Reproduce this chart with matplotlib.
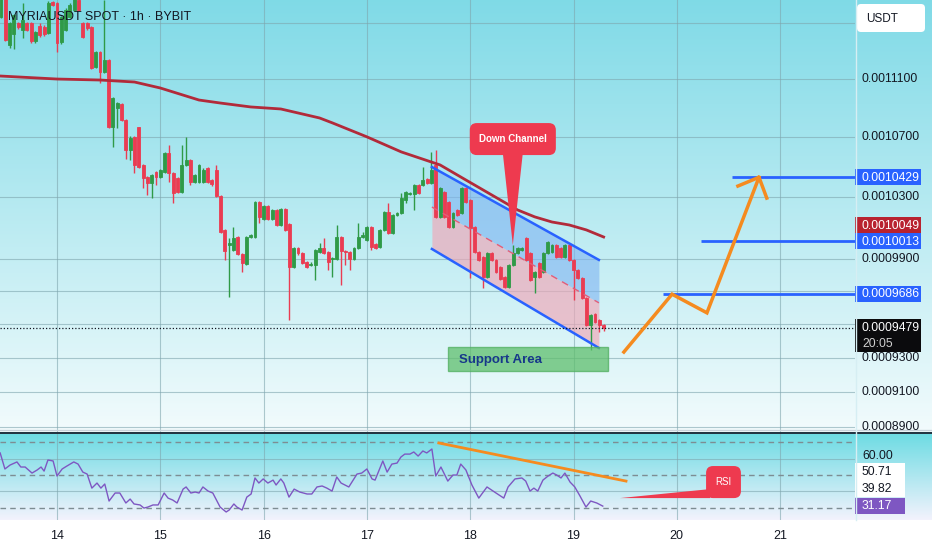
import numpy as np
import matplotlib
matplotlib.use("Agg")
import matplotlib.pyplot as plt
from matplotlib.patches import FancyBboxPatch, Polygon, Rectangle

plt.rcParams['font.family'] = ['Liberation Sans', 'DejaVu Sans']

# ---------------- data (prices in units of 1e-7 USDT, time in hours from day 14 00:00) ----------------
SCALE = 1e-7
hours = list(range(-13, 128))
opens = [11546, 11693, 11342, 11422, 11502, 11451, 11502, 11502, 11371, 11480,
         11470, 11429, 11656, 11649, 11364, 11451, 11546, 11597, 11671, 11502,
         11502, 11473, 11185, 11292, 11149, 11235, 10767, 10898, 10925, 10815,
         10611, 10700, 10767, 10511, 10431, 10391, 10464, 10431, 10464, 10591,
         10458, 10424, 10332, 10511, 10544, 10398, 10398, 10398, 10491, 10411,
         10478, 10306, 10086, 9991, 9959, 10041, 9934, 9871, 10041, 10041,
         10267, 10157, 10241, 10157, 10215, 10118, 10221, 10125, 9852, 9972,
         9940, 9884, 9865, 9865, 9947, 9972, 9947, 9902, 9902, 10041,
         9953, 9947, 9902, 9972, 10041, 10022, 10105, 9997, 9978, 10086,
         10202, 10067, 10183, 10196, 10280, 10319, 10319, 10378, 10378, 10418,
         10391, 10511, 10170, 10332, 10267, 10105, 10215, 10196, 10358, 10280,
         10105, 9947, 9915, 9790, 9940, 9896, 9852, 9790, 9728, 9865,
         9940, 9959, 10035, 9940, 9790, 9877, 9821, 9940, 9947, 9991,
         9972, 9915, 9991, 9896, 9834, 9784, 9661, 9496, 9563, 9527,
         9496]
highs = [11720, 11700, 11510, 11570, 11510, 11649, 11510, 11510, 11445, 11500,
         11490, 11660, 11665, 11655, 11555, 11610, 11650, 11700, 11690, 11510,
         11510, 11480, 11300, 11300, 11671, 11240, 10975, 10940, 10930, 10820,
         10706, 10705, 10770, 10515, 10435, 10450, 10470, 10485, 10598, 10645,
         10465, 10430, 10645, 10700, 10550, 10450, 10520, 10490, 10500, 10415,
         10511, 10310, 10090, 10035, 10105, 10045, 9940, 10048, 10060, 10275,
         10275, 10250, 10250, 10222, 10220, 10228, 10228, 10130, 9980, 9978,
         9945, 9890, 9880, 9965, 10003, 10035, 9952, 9915, 10118, 10048,
         9960, 9955, 9980, 10131, 10073, 10112, 10112, 10003, 10093, 10210,
         10260, 10190, 10203, 10326, 10340, 10333, 10385, 10385, 10498, 10425,
         10597, 10611, 10365, 10340, 10275, 10203, 10222, 10365, 10365, 10287,
         10112, 9953, 9922, 9947, 9947, 9902, 9858, 9796, 9872, 9991,
         9978, 9978, 10041, 9947, 9828, 9884, 9947, 10016, 9997, 9997,
         9978, 9997, 9997, 9902, 9840, 9790, 9667, 9563, 9570, 9533,
         9500]
lows = [11540, 11370, 11320, 11313, 11460, 11393, 11440, 11360, 11360, 11400,
        11410, 11420, 11625, 11292, 11350, 11440, 11540, 11590, 11590, 11390,
        11450, 11170, 11180, 11072, 11140, 10760, 10632, 10760, 10810, 10551,
        10544, 10458, 10490, 10358, 10313, 10293, 10378, 10425, 10460, 10398,
        10260, 10325, 10325, 10505, 10378, 10390, 10390, 10390, 10390, 10370,
        10300, 10065, 9896, 9667, 9950, 9925, 9821, 9865, 10035, 10035,
        10131, 10150, 10150, 10150, 10110, 10112, 10080, 9527, 9845, 9930,
        9870, 9845, 9855, 9771, 9940, 9935, 9834, 9790, 9895, 9740,
        9865, 9834, 9895, 9965, 10035, 10015, 9959, 9965, 9970, 10080,
        10060, 10060, 10175, 10190, 10260, 10312, 10215, 10320, 10370, 10385,
        10385, 10165, 10165, 10165, 10100, 10100, 10176, 10190, 10260, 9784,
        9940, 9890, 9722, 9783, 9890, 9815, 9771, 9722, 9722, 9858,
        9934, 9950, 9890, 9765, 9691, 9783, 9815, 9934, 9940, 9908,
        9908, 9908, 9890, 9648, 9777, 9655, 9490, 9347, 9508, 9454,
        9460]
closes = [11708, 11378, 11502, 11560, 11473, 11524, 11451, 11371, 11436, 11414,
          11420, 11649, 11634, 11356, 11546, 11597, 11634, 11686, 11597, 11400,
          11466, 11178, 11292, 11149, 11235, 10767, 10967, 10932, 10815, 10611,
          10693, 10511, 10498, 10424, 10391, 10444, 10431, 10478, 10591, 10458,
          10326, 10332, 10511, 10544, 10398, 10444, 10511, 10478, 10398, 10385,
          10306, 10073, 9953, 10003, 10035, 9934, 9877, 10041, 10054, 10267,
          10170, 10241, 10157, 10215, 10118, 10221, 10086, 9852, 9972, 9940,
          9877, 9852, 9871, 9959, 9972, 9940, 9884, 9909, 10041, 9953,
          9947, 9902, 9972, 10041, 10054, 10105, 9978, 9972, 10086, 10202,
          10067, 10183, 10196, 10293, 10332, 10326, 10378, 10326, 10411, 10391,
          10478, 10170, 10358, 10170, 10105, 10196, 10183, 10358, 10267, 10099,
          9947, 9896, 9790, 9940, 9896, 9821, 9777, 9728, 9865, 9940,
          9972, 9972, 9896, 9771, 9821, 9790, 9940, 10009, 9991, 9915,
          9915, 9991, 9896, 9834, 9784, 9661, 9496, 9557, 9515, 9496,
          9479]

ma_hours = [-13, 0, 10, 18, 24, 33, 38, 45, 52, 61, 64, 72, 80, 89, 95, 103, 107, 111, 115, 119, 123, 127]
ma_values = [11121, 11100, 11093, 11079, 11037, 10953, 10932, 10905, 10891, 10829, 10795,
             10700, 10598, 10511, 10411, 10280, 10215, 10170, 10137, 10118, 10086, 10041]

rsi_hours = [-13.2, -12.1, -10.9, -9.3, -8.4, -7.4, -5.8, -4.6, -3.7, -3.0, -2.1, -0.9, 0.0, 1.2, 2.3,
             3.9, 4.9, 6.0, 7.0, 8.1, 9.3, 10.2, 11.1, 12.1, 13.5, 14.6, 16.0, 17.0, 17.9, 19.3,
             20.2, 21.1, 22.3, 23.5, 24.9, 25.8, 26.9, 27.9, 29.3, 30.0, 31.1, 32.1, 33.0, 33.9,
             35.1, 36.2, 37.9, 39.3, 40.0, 41.1, 41.8, 43.0, 44.1, 45.1, 46.0, 46.9, 47.9, 49.0,
             50.2, 50.9, 52.0, 52.7, 53.9, 55.1, 56.4, 58.1, 59.2, 60.4, 61.6, 62.7, 63.9, 65.0,
             66.0, 67.8, 69.7, 70.8, 72.0, 73.2, 73.9, 75.7, 76.7, 77.8, 79.0, 79.9, 80.8, 82.0,
             82.9, 83.9, 85.0, 85.9, 87.1, 88.0, 89.2, 90.8, 92.0, 92.9, 93.8, 95.0, 96.4, 98.0,
             99.9, 102.0, 103.8, 104.8, 106.4, 108.0, 108.9, 109.9, 110.8, 111.7, 112.9, 114.1,
             115.2, 116.1, 117.1, 118.0, 119.2, 120.3, 121.5, 122.9, 124.0, 125.4, 126.8]
rsi_values = [63.5, 53.7, 56.1, 58.0, 54.9, 54.9, 51.2, 53.1, 54.9, 52.4, 59.2, 58.6, 49.4, 53.7, 55.5,
              58.0, 56.7, 51.8, 50.6, 42.0, 45.1, 42.0, 44.5, 34.1, 39.0, 39.0, 32.9, 35.3, 32.3, 31.7,
              29.8, 30.4, 31.7, 31.7, 39.0, 35.9, 34.7, 32.9, 41.4, 42.7, 39.0, 39.6, 39.0, 42.7,
              40.2, 39.0, 30.4, 27.4, 28.6, 32.3, 30.4, 28.6, 36.5, 38.4, 48.2, 45.1, 47.6, 45.1,
              46.9, 43.9, 47.6, 45.1, 36.5, 41.4, 39.6, 38.4, 38.4, 42.7, 43.3, 42.0, 40.2, 48.8,
              45.1, 42.7, 50.6, 51.2, 53.7, 47.6, 46.9, 58.6, 51.8, 56.7, 57.3, 61.0, 62.8, 62.8,
              64.1, 61.6, 64.7, 63.5, 65.9, 49.4, 54.9, 46.3, 50.0, 50.0, 56.7, 53.1, 43.9, 35.9,
              42.7, 39.0, 35.9, 42.7, 47.6, 48.2, 46.3, 40.2, 42.0, 40.2, 46.9, 49.4,
              51.2, 50.0, 48.2, 51.2, 45.7, 42.7, 37.2, 30.4, 34.1, 32.9, 31.0]

day_hours = [0, 24, 48, 72, 96, 120, 144, 168]
day_labels = ["14", "15", "16", "17", "18", "19", "20", "21"]

price_grid = [8900, 9100, 9300, 9500, 9700, 9900, 10300, 10700, 11100, 11500]
price_tick_labels = [8900, 9100, 9300, 9900, 10300, 10700, 11100]

last_price = 9479
ma_last = 10049
target_levels = [10429, 10013, 9686]
target_starts = [156.8, 149.6, 140.8]

# channel (hours, prices)
chan_h = [87.1, 125.9]
chan_upper = [10497, 9896]
chan_mid = [10234, 9630]
chan_lower = [9965, 9358]

# projected path (hours, prices)
path_h = [131.7, 142.9, 151.0, 163.1]
path_p = [9334, 9683, 9569, 10429]
head_h = [158.2, 163.1, 164.9]
head_p = [10371, 10429, 10292]

support_h = [90.8, 128.0]
support_p = [9221, 9364]

rsi_levels_dashed = [70, 50, 30]
rsi_levels_solid = [60, 40]
rsi_trend_h = [88.7, 132.2]
rsi_trend_v = [69.6, 46.3]
rsi_last = 31.17
rsi_band_labels = [50.71, 39.82]

# ---------------- layout ----------------
W, H = 932, 550
PANE_R = 855
MAIN_B = 432
RSI_T, RSI_B = 433, 520
XMIN, XMAX = -13.24, 185.4

fig = plt.figure(figsize=(W / 100, H / 100), dpi=100)

def rect(x0, y0, x1, y1):
    return [x0 / W, 1 - y1 / H, (x1 - x0) / W, (y1 - y0) / H]

# background gradient
bg = fig.add_axes([0, 0, 1, 1], zorder=-10)
img = np.ones((H, W, 3))
t = np.linspace(0, 1, MAIN_B)[:, None, None]
c_top = np.array([0.50, 0.855, 0.905]); c_bot = np.array([0.95, 0.985, 0.99])
img[:MAIN_B] = c_top * (1 - t) + c_bot * t
n = RSI_B - MAIN_B
t2 = np.linspace(0, 1, n)[:, None, None]
r_top = np.array([0.42, 0.86, 0.89]); r_bot = np.array([0.95, 0.95, 0.99])
img[MAIN_B:RSI_B] = r_top * (1 - t2) + r_bot * t2
bg.imshow(img, extent=[0, W, H, 0], aspect='auto', interpolation='bilinear')
bg.set_xlim(0, W); bg.set_ylim(H, 0); bg.axis('off')

ax = fig.add_axes(rect(0, 0, PANE_R, MAIN_B))
ax.set_yscale('log')
ax.set_xlim(XMIN, XMAX)
ax.set_ylim(8872 * SCALE, 11671 * SCALE)
ax.patch.set_alpha(0)
for s in ax.spines.values():
    s.set_visible(False)
ax.set_xticks([]); ax.set_yticks([])
ax.yaxis.set_minor_locator(matplotlib.ticker.NullLocator())

axr = fig.add_axes(rect(0, RSI_T, PANE_R, RSI_B))
axr.set_xlim(XMIN, XMAX)
axr.set_ylim(22.5, 75.7)
axr.patch.set_alpha(0)
for s in axr.spines.values():
    s.set_visible(False)
axr.set_xticks([]); axr.set_yticks([])

grid_c = '#7fa6ae'
for p in price_grid:
    ax.axhline(p * SCALE, color=grid_c, lw=0.8, alpha=0.6, zorder=0)
for d in day_hours:
    ax.axvline(d, color=grid_c, lw=0.8, alpha=0.6, zorder=0)
    axr.axvline(d, color=grid_c, lw=0.8, alpha=0.6, zorder=0)
for v in rsi_levels_solid:
    axr.axhline(v, color=grid_c, lw=0.8, alpha=0.6, zorder=0)
for v in rsi_levels_dashed:
    axr.axhline(v, color='#7d8d93', lw=1.0, ls=(0, (4, 3)), zorder=1)

# channel fills
ch = np.array(chan_h)
up = np.array(chan_upper) * SCALE
md = np.array(chan_mid) * SCALE
lo = np.array(chan_lower) * SCALE
ax.fill_between(ch, md, up, color='#80b4f2', alpha=0.6, lw=0, zorder=1)
ax.fill_between(ch, lo, md, color='#f2a6b6', alpha=0.65, lw=0, zorder=1)

# candles
O = np.array(opens) * SCALE; Hh = np.array(highs) * SCALE
L = np.array(lows) * SCALE; C = np.array(closes) * SCALE
hx = np.array(hours)
up_c, dn_c = '#2f9a47', '#ea3c52'
cols = np.where(C >= O, up_c, dn_c)
ax.vlines(hx, L, Hh, colors=cols, lw=1.0, zorder=3)
ax.bar(hx, np.abs(C - O), bottom=np.minimum(O, C), width=0.68, color=cols,
       edgecolor=cols, linewidth=0.6, zorder=4)

# channel lines
ax.plot(ch, up, color='#2962ff', lw=1.8, zorder=5)
ax.plot(ch, lo, color='#2962ff', lw=1.8, zorder=5)
ax.plot(ch, md, color='#e35d78', lw=1.0, ls=(0, (5, 4)), zorder=5)

# MA
ax.plot(ma_hours, np.array(ma_values) * SCALE, color='#b22a3a', lw=2.0, zorder=5)

# dotted last price line
ax.axhline(last_price * SCALE, color='#131722', lw=0.9, ls=(0, (1, 1.6)), zorder=5)

# target levels
for lv, st in zip(target_levels, target_starts):
    ax.hlines(lv * SCALE, st, XMAX, color='#2962ff', lw=2.0, zorder=5)

# projected path
orange = '#f58b1f'
ax.plot(path_h, np.array(path_p) * SCALE, color=orange, lw=2.5, zorder=6, solid_joinstyle='miter')
ax.plot(head_h, np.array(head_p) * SCALE, color=orange, lw=2.5, zorder=6)

# RSI
axr.plot(rsi_hours, rsi_values, color='#7e57c2', lw=1.0, zorder=3)
axr.plot(rsi_trend_h, rsi_trend_v, color=orange, lw=2.0, zorder=4)

# ---------------- overlay in pixel coords ----------------
ov = fig.add_axes([0, 0, 1, 1], zorder=10)
ov.set_xlim(0, W); ov.set_ylim(H, 0); ov.axis('off'); ov.patch.set_alpha(0)

def px(a, x, y):
    dx, dy = a.transData.transform((x, y))
    return dx, H - dy

# support area
x0, y0 = px(ax, support_h[0], support_p[1] * SCALE)
x1, y1 = px(ax, support_h[1], support_p[0] * SCALE)
ov.add_patch(Rectangle((x0, y0), x1 - x0, y1 - y0, fc='#5fbf6d', ec='#4fae5e', alpha=0.75, lw=1))
ov.text(x0 + 11, (y0 + y1) / 2 + 0.5, "Support Area", color='#17388a', fontsize=9.5,
        fontweight='bold', va='center', ha='left')

# Down Channel callout
red = '#ee3a4f'
bx0, by0 = px(ax, 95.9, 10794 * SCALE)
bx1, by1 = px(ax, 115.9, 10577 * SCALE)
tipx, tipy = px(ax, 105.9, 9990 * SCALE)
ov.add_patch(Polygon([[tipx - 10, by1 - 2], [tipx + 10, by1 - 2], [tipx, tipy]], closed=True,
                     fc=red, ec='none'))
ov.add_patch(FancyBboxPatch((bx0, by0), bx1 - bx0, by1 - by0,
                            boxstyle='round,pad=0,rounding_size=7', fc=red, ec='none'))
ov.text((bx0 + bx1) / 2, (by0 + by1) / 2, "Down Channel", color='white', fontsize=7,
        fontweight='bold', ha='center', va='center')

# RSI callout
rx0, ry0 = px(axr, 150.8, 55.5)
rx1, ry1 = px(axr, 158.9, 35.9)
rtx, rty = px(axr, 130.8, 35.9)
ov.add_patch(Polygon([[rtx, rty], [rx0 + 4, ry1 - 9], [rx0 + 4, ry1]], closed=True, fc=red, ec='none'))
ov.add_patch(FancyBboxPatch((rx0, ry0), rx1 - rx0, ry1 - ry0,
                            boxstyle='round,pad=0,rounding_size=7', fc=red, ec='none'))
ov.text((rx0 + rx1) / 2, (ry0 + ry1) / 2, "RSI", color='white', fontsize=7, ha='center', va='center')

# pane separators
ov.plot([0, W], [429.5, 429.5], color='#c9d3dc', lw=1.0)
ov.plot([0, W], [432.5, 432.5], color='#1c2533', lw=1.3)
ov.plot([PANE_R + 0.5, PANE_R + 0.5], [0, RSI_B], color='#d6eef3', lw=1.0)

# title
ov.text(8, 17, "MYRIAUSDT SPOT \u00b7 1h \u00b7 BYBIT", fontsize=9, color='#131722',
        va='center', ha='left')

# USDT box
ov.add_patch(FancyBboxPatch((857, 4), 68, 28, boxstyle='round,pad=0,rounding_size=4',
                            fc='white', ec='none'))
ov.text(866, 18.5, "USDT", fontsize=8.5, color='#131722', va='center', ha='left')

TX = 862
FS = 8.7
txt_c = '#131722'
for p in price_tick_labels:
    _, yy = px(ax, 0, p * SCALE)
    ov.text(TX, yy, f"{p * SCALE:.7f}", fontsize=FS, color=txt_c, va='center', ha='left')

def tag(yc, text, fc, tc='white', h=16):
    ov.add_patch(Rectangle((PANE_R, yc - h / 2), 66, h, fc=fc, ec='none'))
    ov.text(TX, yc + 0.5, text, fontsize=FS, color=tc, va='center', ha='left')

blue = '#2962ff'
ys = {}
for lv in target_levels:
    _, ys[lv] = px(ax, 0, lv * SCALE)
    tag(ys[lv], f"{lv * SCALE:.7f}", blue)
_, yma = px(ax, 0, ma_last * SCALE)
yma = min(yma, ys[10013] - 16)
tag(yma, f"{ma_last * SCALE:.7f}", '#b8222f')

_, ylp = px(ax, 0, last_price * SCALE)
ov.add_patch(Rectangle((PANE_R, ylp - 9), 66, 33, fc='#0b0b0d', ec='none'))
ov.text(TX, ylp + 0.5, f"{last_price * SCALE:.7f}", fontsize=FS, color='white', va='center', ha='left')
ov.text(TX, ylp + 16, "20:05", fontsize=FS, color='#d0d0d0', va='center', ha='left')

# RSI axis labels
_, y60 = px(axr, 0, 60)
ov.text(TX, y60 - 3, "60.00", fontsize=FS, color=txt_c, va='center', ha='left')
_, yl = px(axr, 0, rsi_last)
prev = yl
ov.add_patch(Rectangle((PANE_R, yl - 8), 50, 16, fc='#7e57c2', ec='none'))
ov.text(TX, yl + 0.5, f"{rsi_last:.2f}", fontsize=FS, color='white', va='center', ha='left')
for v in sorted(rsi_band_labels):
    _, yv = px(axr, 0, v)
    yv = min(yv, prev - 17)
    ov.add_patch(Rectangle((PANE_R, yv - 8.5), 50, 17, fc='white', ec='none'))
    ov.text(TX, yv + 0.5, f"{v:.2f}", fontsize=FS, color=txt_c, va='center', ha='left')
    prev = yv

# date labels
for d, lab in zip(day_hours, day_labels):
    xx, _ = px(axr, d, 50)
    ov.text(xx, 536, lab, fontsize=9, color=txt_c, ha='center', va='center')

fig.savefig("out.png", dpi=100)
